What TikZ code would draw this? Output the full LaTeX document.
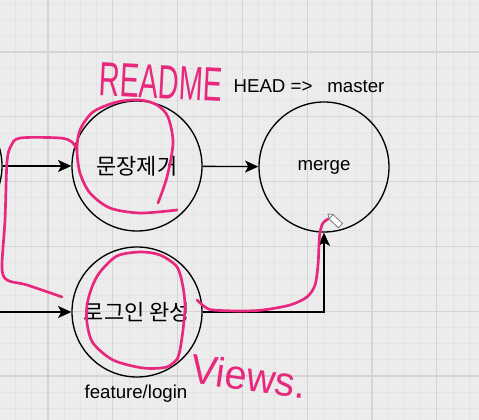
\documentclass[tikz,border=0pt]{standalone}
\usepackage{fontspec}
\setmainfont{Liberation Sans}
\newfontfamily\kr{Noto Sans CJK KR}
\usepackage{graphicx}
\usetikzlibrary{arrows.meta}
\definecolor{bg}{RGB}{236,236,236}
\definecolor{gminor}{RGB}{228,228,228}
\definecolor{gmajor}{RGB}{212,212,212}
\definecolor{ink}{RGB}{232,40,125}
\definecolor{pencilgray}{RGB}{120,120,120}
\begin{document}
\begin{tikzpicture}[x=0.75pt,y=-0.75pt,
  commit/.style={circle,draw=black,line width=1pt,minimum size=97.5pt,inner sep=0pt,font=\fontsize{14}{16}\selectfont},
  krtext/.style={font=\kr\fontsize{16.5}{18}\selectfont},
  conn/.style={draw=black,line width=1pt,-{Stealth[length=10pt,width=9pt,inset=2.5pt]}},
  plainlabel/.style={font=\fontsize{14}{16}\selectfont,inner sep=0pt},
  pen/.style={draw=ink,line width=2pt,line cap=round,line join=round},
  hand/.style={text=ink,inner sep=0pt},
  minorline/.style={draw=gminor,line width=0.6pt},
  majorline/.style={draw=gmajor,line width=0.8pt}]
\useasboundingbox (0,0) rectangle (479,420);
\fill[bg] (0,0) rectangle (479,420);
% grid
\foreach \i in {0,...,29} {
  \draw[minorline] ({15.6+16.2*\i},0) -- ({15.6+16.2*\i},420);
  \draw[minorline] (0,{3.4+16.2*\i}) -- (479,{3.4+16.2*\i});
}
\foreach \i in {0,...,6} {
  \draw[majorline] ({48+64.8*\i},0) -- ({48+64.8*\i},420);
  \draw[majorline] (0,{52+64.8*\i}) -- (479,{52+64.8*\i});
}
% commits
\node[commit] (prev) at (-63,166) {};
\node[commit,krtext] (readme) at (137,166) {문장제거};
\node[commit] (merge) at (324,167) {merge};
\node[commit,krtext] (login) at (137,312) {로그인 완성};
\coordinate (lin) at (0,312);
\node[plainlabel] (head) at (309,86) {HEAD =>\hspace{0.8em}master};
\node[plainlabel] (feat) at (136,394) {feature/login};
% connectors
\draw[conn] (prev) -- (readme);
\draw[conn] (readme) -- (merge);
\draw[conn] (lin) -- (login);
\draw[conn] (login.east) -| (merge.south);
% handwritten annotations
\node[hand,rotate=-3] (readmeTxt) at (161,82) {\scalebox{0.6}[1]{\fontsize{36}{36}\selectfont README}};
\node[hand,rotate=-8] (viewsTxt) at (249,376) {\scalebox{0.96}[1]{\fontsize{31}{31}\selectfont Views.}};
\draw[pen] plot[smooth] coordinates {(158,203) (167,177) (173,143) (168,117) (157,105) (140,100) (117,102) (93,112) (80,130) (77,150) (80,173) (90,193) (110,208) (140,213) (177,210)};
\draw[pen] plot[smooth] coordinates {(77,150) (72,142) (60,138) (20,138) (11,146) (7,162) (5,220) (2,267) (7,280) (27,285) (62,297)};
\draw[pen] plot[smooth] coordinates {(178,358) (167,367) (143,368) (113,360) (93,343) (87,323) (87,305) (92,287) (100,272) (117,256) (140,252) (160,255) (177,267) (183,287) (185,307) (183,330) (180,350) (177,360)};
\draw[pen] plot[smooth] coordinates {(197,300) (205,307) (213,310) (240,311) (263,310) (290,305) (307,297) (315,285) (318,265) (319,245) (320,232) (323,223) (328,219)};
% pencil cursor
\filldraw[fill=white,draw=pencilgray,line width=0.6pt] (328,214) -- (333,214.5) -- (342.4,223.4) -- (338.4,227.8) -- (329,218.9) -- cycle;
\draw[pencilgray,line width=0.6pt] (333,214.5) -- (329,218.9);
\end{tikzpicture}
\end{document}
